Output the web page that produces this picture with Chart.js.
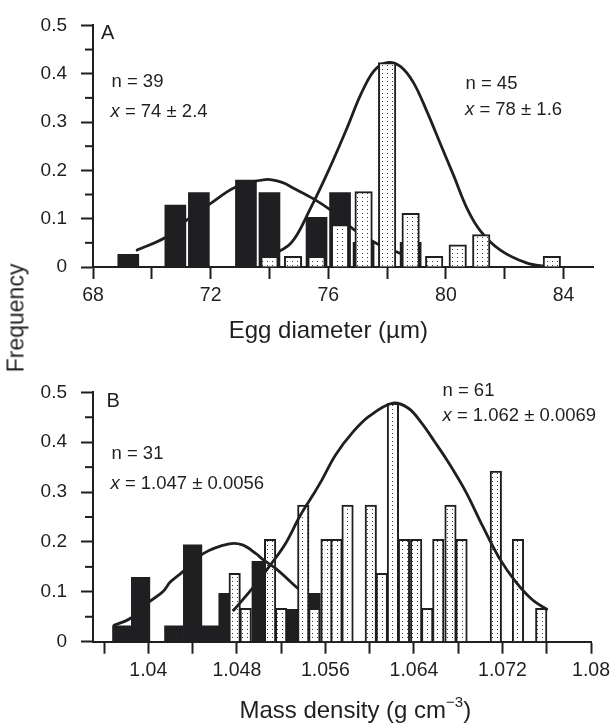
<!DOCTYPE html>
<html><head><meta charset="utf-8">
<script src="https://cdn.jsdelivr.net/npm/chart.js@4.4.1/dist/chart.umd.min.js"></script>
<style>
html,body{margin:0;padding:0;background:#fff;}
#wrap{position:relative;width:615px;height:728px;overflow:hidden;background:#fff;}
canvas{position:absolute;left:0;}
#freq{position:absolute;left:16px;top:318px;transform:translate(-50%,-50%) rotate(-90deg);font:23px 'Liberation Sans',Arial,Helvetica,sans-serif;color:#1f1f21;white-space:nowrap;}
</style></head><body>
<div id="wrap">
<canvas id="cA" width="615" height="360" style="top:0"></canvas>
<canvas id="cB" width="615" height="368" style="top:360px"></canvas>
<div id="freq">Frequency</div>
</div>
<script>
// ---------- shared y axis ----------
const yTicks = [0, 0.1, 0.2, 0.3, 0.4, 0.5];
const yTickLabels = ['0', '0.1', '0.2', '0.3', '0.4', '0.5'];
const yMinor = [0.05, 0.15, 0.25, 0.35, 0.45];

// ---------- Panel A: egg diameter ----------
const eggTicks = [68, 70, 72, 74, 76, 78, 80, 82, 84];
const eggTickLabels = ['68', '', '72', '', '76', '', '80', '', '84'];
const eggBinsLow = [69.2, 70.8, 71.6, 73.2, 74.0, 75.6, 76.4, 77.2, 78.8];
const eggFreqLow = [0.026, 0.128, 0.154, 0.180, 0.154, 0.103, 0.154, 0.051, 0.051];
const eggBinsHigh = [74.0, 74.8, 75.6, 76.4, 77.2, 78.0, 78.8, 79.6, 80.4, 81.2, 83.6];
const eggFreqHigh = [0.022, 0.022, 0.022, 0.088, 0.156, 0.423, 0.111, 0.022, 0.046, 0.067, 0.022];
const eggFitLowX = [69.5, 70.46, 71.14, 71.99, 72.84, 73.86, 74.43, 74.82, 75.5, 76.07, 76.86, 77.66, 78.45];
const eggFitLowY = [0.035, 0.061, 0.095, 0.131, 0.165, 0.181, 0.175, 0.163, 0.141, 0.118, 0.078, 0.048, 0.028];
const eggFitHighX = [73.8, 74.71, 75.39, 76.07, 76.64, 77.09, 77.54, 78.0, 78.45, 78.9, 79.36, 79.81, 80.27, 80.72, 81.17, 81.85, 82.76, 83.44];
const eggFitHighY = [0.018, 0.048, 0.121, 0.208, 0.288, 0.355, 0.405, 0.423, 0.415, 0.381, 0.321, 0.255, 0.188, 0.121, 0.075, 0.035, 0.008, 0.001];
const eggStats = ['n = 39', ' = 74 \u00b1 2.4', 'n = 45', ' = 78 \u00b1 1.6'];
const eggTitle = ['Egg diameter (\u00b5m)'];

// ---------- Panel B: mass density ----------
const densTicks = [1.036, 1.040, 1.044, 1.048, 1.052, 1.056, 1.060, 1.064, 1.068, 1.072, 1.076, 1.080];
const densTickLabels = ['', '1.04', '', '1.048', '', '1.056', '', '1.064', '', '1.072', '', '1.08'];
const densBinsLow = [1.0376, 1.0393, 1.0423, 1.0440, 1.0457, 1.0472, 1.0502, 1.0533, 1.0547];
const densFreqLow = [0.032, 0.129, 0.032, 0.194, 0.032, 0.097, 0.161, 0.065, 0.097];
const densBinsHigh = [1.0478, 1.0488, 1.0510, 1.0520, 1.0540, 1.0550, 1.0561, 1.0570, 1.0580, 1.0601, 1.0611,
                      1.0621, 1.0631, 1.0642, 1.0652, 1.0662, 1.0673, 1.0683, 1.0714, 1.0734, 1.0755];
const densFreqHigh = [0.137, 0.067, 0.205, 0.067, 0.274, 0.067, 0.205, 0.205, 0.274, 0.274, 0.137,
                      0.478, 0.205, 0.205, 0.067, 0.205, 0.274, 0.205, 0.342, 0.205, 0.067];
const densFitLowX = [1.0369, 1.0384, 1.0399, 1.0413, 1.0420, 1.0431, 1.0450, 1.0473, 1.0485, 1.0497, 1.0504, 1.0515, 1.0535];
const densFitLowY = [0.033, 0.047, 0.077, 0.100, 0.120, 0.140, 0.177, 0.196, 0.194, 0.177, 0.164, 0.147, 0.107];
const densFitHighX = [1.0477, 1.0494, 1.0509, 1.0524, 1.0537, 1.0549, 1.0557, 1.0569, 1.0584, 1.0599, 1.0620,
                      1.0635, 1.0647, 1.0659, 1.0671, 1.0687, 1.0702, 1.0717, 1.0732, 1.0747, 1.0760];
const densFitHighY = [0.063, 0.107, 0.150, 0.197, 0.252, 0.295, 0.325, 0.374, 0.418, 0.451, 0.478,
                      0.468, 0.438, 0.400, 0.360, 0.300, 0.232, 0.168, 0.120, 0.084, 0.065];
const densStats = ['n = 31', ' = 1.047 \u00b1 0.0056', 'n = 61', ' = 1.062 \u00b1 0.0069'];
const densTitle = ['Mass density (g cm', '\u22123', ')'];

// ---------- styling ----------
const FONT = "'Liberation Sans', Arial, Helvetica, sans-serif";
const INK = '#1f1f21';
const pts = (xs, ys) => xs.map((x, i) => ({x: x, y: ys[i]}));

function dotPattern(ctx) {
  const t = document.createElement('canvas');
  t.width = 5; t.height = 4;
  const g = t.getContext('2d');
  g.fillStyle = '#ffffff'; g.fillRect(0, 0, 5, 4);
  g.fillStyle = '#3c3c3c'; g.fillRect(2, 1, 1, 1);
  return ctx.createPattern(t, 'repeat');
}

function notesPlugin(c) {
  return {
    id: 'notes',
    afterDraw(chart) {
      const ctx = chart.ctx;
      ctx.save();
      ctx.fillStyle = INK; ctx.textAlign = 'left'; ctx.textBaseline = 'alphabetic';
      c.notes.forEach(n => {
        let x = n.x;
        if (n.italic) {
          ctx.font = 'italic ' + n.size + 'px ' + FONT;
          ctx.fillText(n.italic, x, n.y);
          x += ctx.measureText(n.italic).width;
        }
        ctx.font = n.size + 'px ' + FONT;
        ctx.fillText(n.text, x, n.y);
      });
      // axis title (with optional superscript part)
      const parts = c.title.map((t, i) => ({t: t, sup: i === 1}));
      let total = 0;
      parts.forEach(p => { ctx.font = (p.sup ? 15 : 24) + 'px ' + FONT; p.w = ctx.measureText(p.t).width; total += p.w; });
      let x = chart.scales.x.getPixelForValue(c.titleAt) - total / 2;
      ctx.textBaseline = 'middle';
      parts.forEach(p => {
        ctx.font = (p.sup ? 15 : 24) + 'px ' + FONT;
        ctx.fillText(p.t, x, p.sup ? c.titleY - 8 : c.titleY);
        x += p.w;
      });
      ctx.restore();
    }
  };
}

const minorTickPlugin = {
  id: 'minorY',
  afterDraw(chart) {
    const s = chart.scales.y, ctx = chart.ctx;
    ctx.save(); ctx.strokeStyle = INK; ctx.lineWidth = 2;
    yMinor.forEach(v => {
      const p = s.getPixelForValue(v);
      ctx.beginPath(); ctx.moveTo(s.right - 8, p); ctx.lineTo(s.right, p); ctx.stroke();
    });
    ctx.restore();
  }
};

function build(id, c) {
  const canvas = document.getElementById(id);
  const pat = dotPattern(canvas.getContext('2d'));
  const curveOrder = c.curvesOnTop ? 0 : 5;
  const curve = (xs, ys) => ({type: 'line', data: pts(xs, ys), borderColor: INK, borderWidth: 2.8, pointRadius: 0,
    tension: 0.35, borderCapStyle: 'round', borderJoinStyle: 'round', fill: false, order: curveOrder});
  return new Chart(canvas, {
    type: 'bar',
    data: {
      datasets: [
        curve(c.fitLowX, c.fitLowY),
        curve(c.fitHighX, c.fitHighY),
        {data: pts(c.binsHigh, c.freqHigh), backgroundColor: pat, borderColor: INK, borderWidth: 2,
         borderSkipped: 'start', barThickness: c.wHigh, grouped: false, order: 2},
        {data: pts(c.binsLow, c.freqLow), backgroundColor: INK, borderWidth: 0,
         barThickness: c.wLow, grouped: false, order: 3}
      ]
    },
    options: {
      responsive: false, animation: false,
      layout: {padding: c.padding},
      plugins: {legend: {display: false}, tooltip: {enabled: false}},
      scales: {
        x: {
          type: 'linear', min: c.xMin, max: c.xMax, offset: false,
          grid: {display: true, offset: false, drawOnChartArea: false, drawTicks: true, tickLength: 12, tickWidth: 2, tickColor: INK},
          border: {display: true, color: INK, width: 2},
          afterBuildTicks: s => { s.ticks = c.ticks.map(v => ({value: v})); },
          ticks: {autoSkip: false, maxRotation: 0, padding: 5, color: INK, font: {family: FONT, size: 19.5},
                  callback: (v, i) => c.tickLabels[i]},
          title: {display: false},
          afterFit: s => { s.height = c.xHeight; }
        },
        y: {
          min: 0, max: 0.5,
          grid: {display: true, drawOnChartArea: false, drawTicks: true, tickLength: 12, tickWidth: 2, tickColor: INK},
          border: {display: true, color: INK, width: 2},
          afterBuildTicks: s => { s.ticks = yTicks.map(v => ({value: v})); },
          ticks: {autoSkip: false, padding: 14, color: INK, font: {family: FONT, size: 19},
                  callback: (v, i) => yTickLabels[i]},
          afterFit: s => { s.width = 93; }
        }
      }
    },
    plugins: [minorTickPlugin, notesPlugin(c)]
  });
}

build('cA', {
  fitLowX: eggFitLowX, fitLowY: eggFitLowY, fitHighX: eggFitHighX, fitHighY: eggFitHighY,
  binsLow: eggBinsLow, freqLow: eggFreqLow, binsHigh: eggBinsHigh, freqHigh: eggFreqHigh,
  wLow: 21, wHigh: 17.5, curvesOnTop: false,
  xMin: 68, xMax: 85, ticks: eggTicks, tickLabels: eggTickLabels,
  title: eggTitle, titleAt: 76, titleY: 331, xHeight: 93,
  padding: {left: 0, top: 17, right: 22, bottom: 0},
  notes: [
    {x: 101, y: 39, size: 20, text: 'A'},
    {x: 111.5, y: 87, size: 18.5, text: eggStats[0]},
    {x: 110.5, y: 117, size: 18.5, italic: 'x', text: eggStats[1]},
    {x: 465.5, y: 89, size: 18.5, text: eggStats[2]},
    {x: 465, y: 115, size: 18.5, italic: 'x', text: eggStats[3]}
  ]
});

build('cB', {
  fitLowX: densFitLowX, fitLowY: densFitLowY, fitHighX: densFitHighX, fitHighY: densFitHighY,
  binsLow: densBinsLow, freqLow: densFreqLow, binsHigh: densBinsHigh, freqHigh: densFreqHigh,
  wLow: 18.5, wHigh: 11.5, curvesOnTop: true,
  xMin: 1.035, xMax: 1.08, ticks: densTicks, tickLabels: densTickLabels,
  title: densTitle, titleAt: 1.0587, titleY: 351, xHeight: 86.3,
  padding: {left: 0, top: 32.3, right: 22.3, bottom: 0},
  notes: [
    {x: 106.5, y: 46.5, size: 20, text: 'B'},
    {x: 111.5, y: 99, size: 18.5, text: densStats[0]},
    {x: 110.5, y: 129, size: 18.5, italic: 'x', text: densStats[1]},
    {x: 442.5, y: 36, size: 18.5, text: densStats[2]},
    {x: 442.5, y: 61, size: 18.5, italic: 'x', text: densStats[3]}
  ]
});
</script>
</body></html>
